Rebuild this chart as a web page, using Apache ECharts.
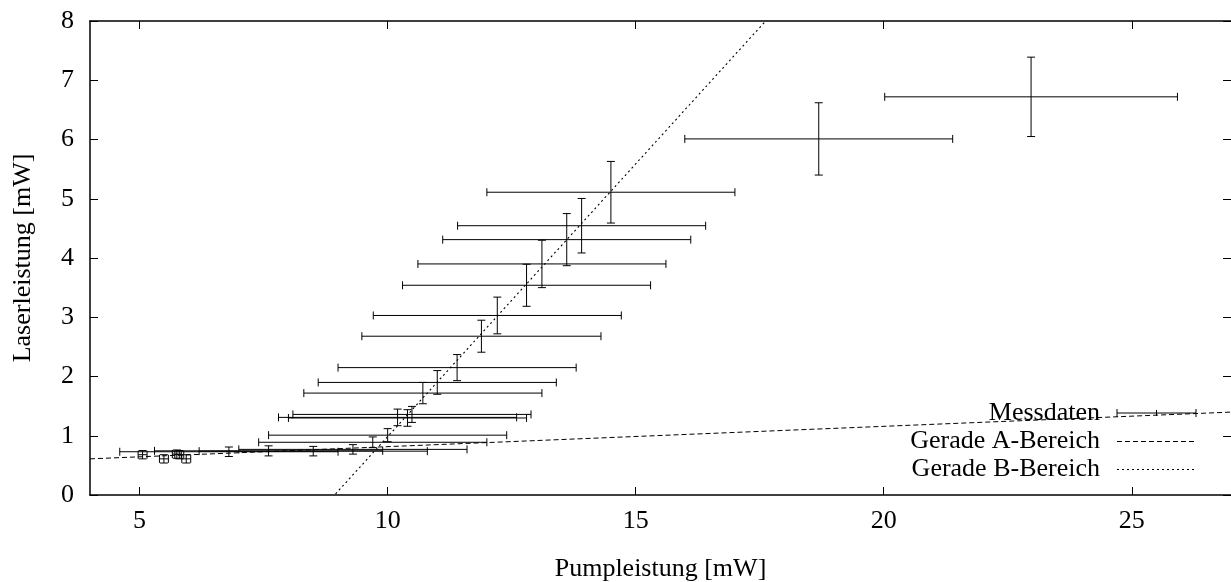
<!DOCTYPE html>
<html>
<head>
<meta charset="utf-8">
<script src="https://cdn.jsdelivr.net/npm/echarts@6/dist/echarts.min.js"></script>
<style>
html,body{margin:0;padding:0;background:#fff;}
#chart{width:1231px;height:582px;}
</style>
</head>
<body>
<div id="chart"></div>
<script>
// ---- data ----
const pumpPower  = [5.06, 5.49, 5.75, 5.80, 5.94, 6.80, 7.60, 8.50, 9.30, 9.70, 10.00, 10.20, 10.40, 10.49, 10.71, 11.00, 11.40, 11.89, 12.21, 12.80, 13.11, 13.61, 13.91, 14.50, 18.69, 22.97];
const laserPower = [0.68, 0.61, 0.69, 0.68, 0.61, 0.73, 0.745, 0.74, 0.77, 0.89, 1.01, 1.31, 1.30, 1.36, 1.72, 1.90, 2.15, 2.68, 3.03, 3.54, 3.90, 4.31, 4.545, 5.11, 6.01, 6.72];
const pumpErr    = [0.09, 0.09, 0.09, 0.09, 0.09, 2.2, 2.3, 2.3, 2.3, 2.3, 2.4, 2.4, 2.4, 2.4, 2.4, 2.4, 2.4, 2.41, 2.5, 2.5, 2.5, 2.5, 2.5, 2.5, 2.7, 2.95];
const laserErr   = [0.07, 0.07, 0.07, 0.07, 0.07, 0.08, 0.085, 0.08, 0.08, 0.09, 0.11, 0.14, 0.14, 0.135, 0.18, 0.20, 0.22, 0.27, 0.31, 0.355, 0.40, 0.44, 0.46, 0.52, 0.61, 0.67];

// fitted straight lines y = slope * x + intercept
const fitA = [0.0343, 0.473];   // Gerade A-Bereich
const fitB = [0.9206, -8.221];  // Gerade B-Bereich

const xRange = [4, 27];
const yRange = [0, 8];
const xTicks = [5, 10, 15, 20, 25];
const yTicks = [0, 1, 2, 3, 4, 5, 6, 7, 8];

const seriesNames = ['Messdaten', 'Gerade A-Bereich', 'Gerade B-Bereich'];
const xName = 'Pumpleistung [mW]';
const yName = 'Laserleistung [mW]';

// ---- chart ----
const FONT = '"Liberation Serif", "DejaVu Serif", serif';
const FS = 26;
const chart = echarts.init(document.getElementById('chart'), null, {renderer: 'canvas'});

function lineData(fit) {
  return xRange.map(x => [x, fit[0] * x + fit[1]]);
}

const axisLineStyle = {color: '#000', width: 1.5};
const tickStyle = {color: '#000', width: 1};

const errData = pumpPower.map((x, i) => [x, laserPower[i], pumpErr[i], laserErr[i]]);

const CAP = 4;
const blk = {stroke: '#000', lineWidth: 1, fill: null};
const DASH_A = [5, 3];
const DASH_B = [2, 3];

// legend layout (inside plot, bottom right)
const LG = {textRight: 1100, x1: 1117, x2: 1196, rows: [413, 441.5, 469.5]};

function seg(x1, y1, x2, y2, style) {
  return {type: 'line', shape: {x1, y1, x2, y2}, style: style || blk};
}

const option = {
  backgroundColor: '#fff',
  animation: false,
  grid: {left: 90, right: 0, top: 21, bottom: 87, containLabel: false, outerBoundsMode: 'none'},
  xAxis: [{
    type: 'value', min: xRange[0], max: xRange[1], position: 'bottom',
    axisLine: {show: true, onZero: false, lineStyle: axisLineStyle},
    axisTick: {show: true, inside: true, length: 8, customValues: xTicks, lineStyle: tickStyle},
    axisLabel: {show: true, customValues: xTicks, color: '#000', fontSize: FS, fontFamily: FONT, margin: 13},
    splitLine: {show: false},
    name: xName, nameLocation: 'middle', nameGap: 61,
    nameTextStyle: {color: '#000', fontSize: FS, fontFamily: FONT}
  }, {
    type: 'value', min: xRange[0], max: xRange[1], position: 'top',
    axisLine: {show: true, onZero: false, lineStyle: axisLineStyle},
    axisTick: {show: true, inside: true, length: 8, customValues: xTicks, lineStyle: tickStyle},
    axisLabel: {show: false},
    splitLine: {show: false}
  }],
  yAxis: [{
    type: 'value', min: yRange[0], max: yRange[1], interval: 1, position: 'left',
    axisLine: {show: true, onZero: false, lineStyle: axisLineStyle},
    axisTick: {show: true, inside: true, length: 8, customValues: yTicks, lineStyle: tickStyle},
    axisLabel: {show: true, customValues: yTicks, color: '#000', fontSize: FS, fontFamily: FONT, margin: 16},
    splitLine: {show: false},
    name: yName, nameLocation: 'middle', nameGap: 54, nameRotate: 90,
    nameTextStyle: {color: '#000', fontSize: FS, fontFamily: FONT}
  }, {
    type: 'value', min: yRange[0], max: yRange[1], interval: 1, position: 'right',
    axisLine: {show: false, onZero: false, lineStyle: axisLineStyle},
    axisTick: {show: true, inside: true, length: 8, customValues: yTicks, lineStyle: tickStyle},
    axisLabel: {show: false},
    splitLine: {show: false}
  }],
  series: [{
    type: 'custom', name: seriesNames[0], xAxisIndex: 0, yAxisIndex: 0,
    clip: true, data: errData, encode: {x: 0, y: 1},
    renderItem: function (params, api) {
      const x = api.value(0), y = api.value(1), dx = api.value(2), dy = api.value(3);
      const c = api.coord([x, y]);
      const l = api.coord([x - dx, y]);
      const r = api.coord([x + dx, y]);
      const t = api.coord([x, y + dy]);
      const b = api.coord([x, y - dy]);
      return {type: 'group', children: [
        seg(l[0], c[1], r[0], c[1]),
        seg(l[0], c[1] - CAP, l[0], c[1] + CAP),
        seg(r[0], c[1] - CAP, r[0], c[1] + CAP),
        seg(c[0], t[1], c[0], b[1]),
        seg(c[0] - CAP, t[1], c[0] + CAP, t[1]),
        seg(c[0] - CAP, b[1], c[0] + CAP, b[1])
      ]};
    },
    z: 3
  }, {
    type: 'line', name: seriesNames[1], data: lineData(fitA), showSymbol: false, symbol: 'none',
    clip: true, lineStyle: {color: '#000', width: 1, type: DASH_A}, z: 2
  }, {
    type: 'line', name: seriesNames[2], data: lineData(fitB), showSymbol: false, symbol: 'none',
    clip: true, lineStyle: {color: '#000', width: 1.1, type: DASH_B}, z: 2
  }],
  graphic: [{
    type: 'group', z: 10, children: [
      {type: 'text', x: LG.textRight, y: LG.rows[0], style: {text: seriesNames[0], font: FS + 'px ' + FONT, fill: '#000', align: 'right', verticalAlign: 'middle'}},
      {type: 'text', x: LG.textRight, y: LG.rows[1], style: {text: seriesNames[1], font: FS + 'px ' + FONT, fill: '#000', align: 'right', verticalAlign: 'middle'}},
      {type: 'text', x: LG.textRight, y: LG.rows[2], style: {text: seriesNames[2], font: FS + 'px ' + FONT, fill: '#000', align: 'right', verticalAlign: 'middle'}},
      seg(LG.x1, LG.rows[0], LG.x2, LG.rows[0]),
      seg(LG.x1, LG.rows[0] - CAP, LG.x1, LG.rows[0] + CAP),
      seg(LG.x2, LG.rows[0] - CAP, LG.x2, LG.rows[0] + CAP),
      seg((LG.x1 + LG.x2) / 2, LG.rows[0] - 3, (LG.x1 + LG.x2) / 2, LG.rows[0] + 3),
      seg(LG.x1, LG.rows[1], LG.x2, LG.rows[1], {stroke: '#000', lineWidth: 1, lineDash: DASH_A}),
      seg(LG.x1, LG.rows[2], LG.x2, LG.rows[2], {stroke: '#000', lineWidth: 1.1, lineDash: DASH_B})
    ]
  }]
};
chart.setOption(option);
</script>
</body>
</html>
